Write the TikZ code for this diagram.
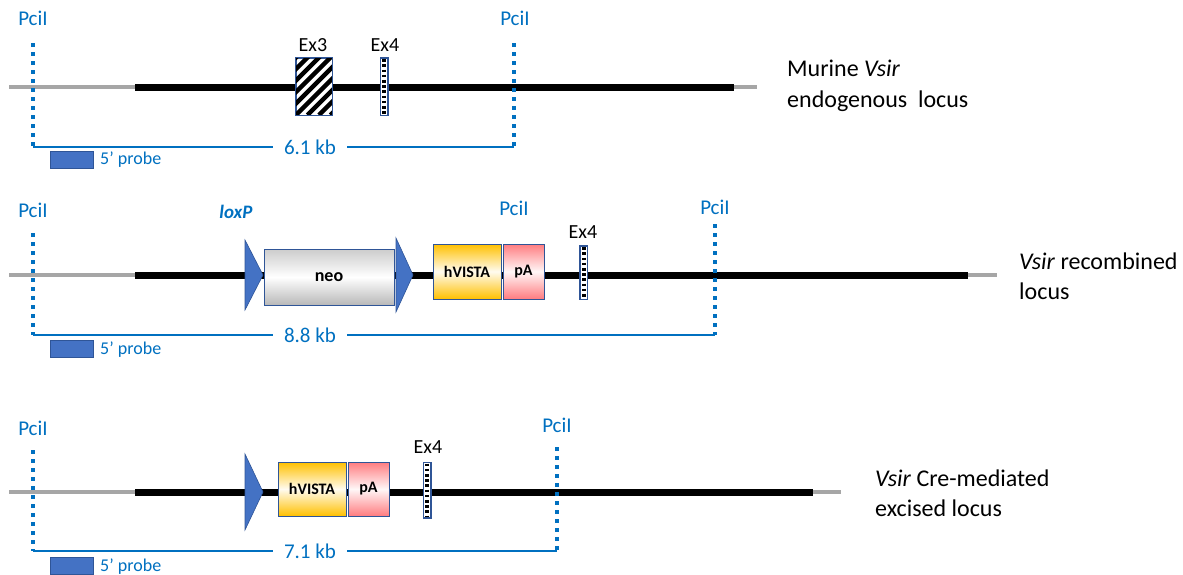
\documentclass[tikz,border=0pt]{standalone}
\usepackage{fontspec}
\setmainfont{Carlito}
\definecolor{pblue}{HTML}{0070C0}
\definecolor{tblue}{HTML}{4472C4}
\definecolor{bblue}{HTML}{2F5597}
\definecolor{vgold}{HTML}{FFC000}
\definecolor{vpink}{HTML}{FF7C80}
\tikzset{
  chrom/.style={line width=7pt,black},
  flank/.style={line width=4.5pt,color=gray!70},
  site/.style={pblue,line width=3.5pt,dash pattern=on 3.5pt off 5.5pt},
  sitelbl/.style={text=pblue,font=\fontsize{21}{24}\selectfont,inner sep=0pt},
  sizebar/.style={pblue,line width=2pt},
  kb/.style={text=pblue,font=\fontsize{21}{24}\selectfont,inner xsep=11pt,inner ysep=0pt},
  probe/.style={fill=tblue,draw=bblue,line width=0.8pt,minimum width=43pt,minimum height=17pt,inner sep=0pt},
  probelbl/.style={text=pblue,font=\fontsize{18}{21}\selectfont,anchor=west,inner sep=0pt},
  exlbl/.style={font=\fontsize{20}{23}\selectfont,inner sep=0pt},
  exbox/.style={draw=bblue,fill=white,line width=0.8pt,inner sep=0pt},
  stripes/.style={line width=4pt,dash pattern=on 2.6pt off 2.6pt},
  neobox/.style={draw=bblue,line width=0.8pt,top color=gray!40,bottom color=gray!55,middle color=white,
     minimum width=130pt,minimum height=56pt,inner sep=0pt,font=\bfseries\fontsize{18}{21}\selectfont},
  vistabox/.style={draw=bblue,line width=0.8pt,top color=vgold,bottom color=vgold,middle color=vgold!6,
     minimum width=68pt,minimum height=55pt,inner sep=0pt,font=\bfseries\fontsize{16}{19}\selectfont},
  pabox/.style={draw=bblue,line width=0.8pt,top color=vpink,bottom color=vpink,middle color=vpink!6,
     minimum width=41pt,minimum height=55pt,inner sep=0pt,font=\bfseries\fontsize{16}{19}\selectfont},
  loxp/.style={fill=tblue,draw=bblue,line width=0.6pt},
  locuslbl/.style={font=\fontsize{24}{28}\selectfont,anchor=west,inner sep=0pt}
}
\begin{document}
\begin{tikzpicture}[x=1pt,y=-1pt]
\useasboundingbox (0,0) rectangle (1183,574);

%% ================= Row 1 =================
\coordinate (a1) at (9,87); \coordinate (b1) at (135,87);
\coordinate (c1) at (734,87); \coordinate (d1) at (757,87);
\draw[flank] (a1) -- (b1);
\draw[flank] (c1) -- (d1);
\draw[chrom] (b1) -- (c1);

% sites
\node[sitelbl] (p11) at (33,18) {PciI};
\node[sitelbl] (p12) at (515,18) {PciI};
\coordinate (t11) at (33,43); \coordinate (s11) at (33,147);
\coordinate (t12) at (514,43); \coordinate (s12) at (514,147);
\draw[site] (t11) -- (s11);
\draw[site] (t12) -- (s12);

% Ex3 hatched
\node[exbox,minimum width=36pt,minimum height=57pt] (ex3) at (314,86.5) {};
\begin{scope}
  \clip (296,58) rectangle (332,115);
  \foreach \i in {-6,...,4} \draw[line width=4.5pt] (296+\i*11.5,115) -- ++(62,-62);
\end{scope}
\draw[bblue,line width=0.8pt] (ex3.south west) rectangle (ex3.north east);
\node[exlbl] (l31) at (313,45) {Ex3};

% Ex4
\node[exbox,minimum width=7pt,minimum height=57pt] (e41) at (384,86.5) {};
\draw[stripes] ([yshift=-1.5pt]e41.north) -- ([yshift=1.5pt]e41.south);
\draw[bblue,line width=0.8pt] (e41.south west) rectangle (e41.north east);
\node[exlbl] (l41) at (385,45) {Ex4};

% size bar
\node[kb] (kb1) at (310,147) {6.1 kb};
\draw[sizebar] (s11) -- (kb1.west);
\draw[sizebar] (kb1.east) -- (s12);
\node[probe] (pr1) at (71.5,159.5) {};
\node[probelbl] (pl1) at (100,160) {5’ probe};

\node[locuslbl] (m1) at (787,68) {Murine \textit{Vsir}};
\node[locuslbl] (m2) at (787,101) {endogenous\hspace{0.45em}locus};

%% ================= Row 2 =================
\coordinate (a2) at (9,275); \coordinate (b2) at (135,275);
\coordinate (c2) at (968,275); \coordinate (d2) at (997,275);
\draw[flank] (a2) -- (b2);
\draw[flank] (c2) -- (d2);
\draw[chrom] (b2) -- (c2);

\node[sitelbl] (p21) at (33,210) {PciI};
\node[sitelbl] (p2m) at (514,208) {PciI};
\node[sitelbl] (p22) at (715,207) {PciI};
\coordinate (t21) at (33,233); \coordinate (s21) at (33,335);
\coordinate (t22) at (715,224); \coordinate (s22) at (715,335);
\draw[site] (t21) -- (s21);
\draw[site] (t22) -- (s22);

\node[text=pblue,font=\bfseries\itshape\fontsize{19}{22}\selectfont,inner sep=0pt] (lx) at (236,212) {loxP};
\path[loxp] (245,240) -- (263,275) -- (245,310) -- cycle;
\node[neobox] (neo) at (329,277) {neo};
\path[loxp] (396,238) -- (413,275) -- (396,312) -- cycle;
\node[vistabox] (hv2) at (467,271.5) {hVISTA};
\node[pabox] (pa2) at (523.5,271.5) {pA};

\node[exbox,minimum width=7pt,minimum height=53pt] (e42) at (583.5,272.5) {};
\draw[stripes] ([yshift=-1.5pt]e42.north) -- ([yshift=1.5pt]e42.south);
\draw[bblue,line width=0.8pt] (e42.south west) rectangle (e42.north east);
\node[exlbl] (l42) at (583,232) {Ex4};

\node[kb] (kb2) at (310,335) {8.8 kb};
\draw[sizebar] (s21) -- (kb2.west);
\draw[sizebar] (kb2.east) -- (s22);
\node[probe] (pr2) at (71.5,348.5) {};
\node[probelbl] (pl2) at (100,350) {5’ probe};

\node[locuslbl] (r1) at (1019,261) {\textit{Vsir} recombined};
\node[locuslbl] (r2) at (1019,291) {locus};

%% ================= Row 3 =================
\coordinate (a3) at (9,492); \coordinate (b3) at (135,492);
\coordinate (c3) at (813,492); \coordinate (d3) at (841,492);
\draw[flank] (a3) -- (b3);
\draw[flank] (c3) -- (d3);
\draw[chrom] (b3) -- (c3);

\node[sitelbl] (p31) at (33,428) {PciI};
\node[sitelbl] (p32) at (557,425) {PciI};
\coordinate (t31) at (33,450); \coordinate (s31) at (33,551);
\coordinate (t32) at (557,447); \coordinate (s32) at (557,551);
\draw[site] (t31) -- (s31);
\draw[site] (t32) -- (s32);

\path[loxp] (245,454) -- (263,492) -- (245,530) -- cycle;
\node[vistabox,minimum height=54pt] (hv3) at (312,489) {hVISTA};
\node[pabox,minimum height=54pt] (pa3) at (368.5,489) {pA};

\node[exbox,minimum width=7pt,minimum height=55pt] (e43) at (427,490) {};
\draw[stripes] ([yshift=-1.5pt]e43.north) -- ([yshift=1.5pt]e43.south);
\draw[bblue,line width=0.8pt] (e43.south west) rectangle (e43.north east);
\node[exlbl] (l43) at (428,447) {Ex4};

\node[kb] (kb3) at (310,551) {7.1 kb};
\draw[sizebar] (s31) -- (kb3.west);
\draw[sizebar] (kb3.east) -- (s32);
\node[probe] (pr3) at (71.5,566) {};
\node[probelbl] (pl3) at (100,567) {5’ probe};

\node[locuslbl] (x1) at (875,478) {\textit{Vsir} Cre-mediated};
\node[locuslbl] (x2) at (875,508) {excised locus};
\end{tikzpicture}
\end{document}
